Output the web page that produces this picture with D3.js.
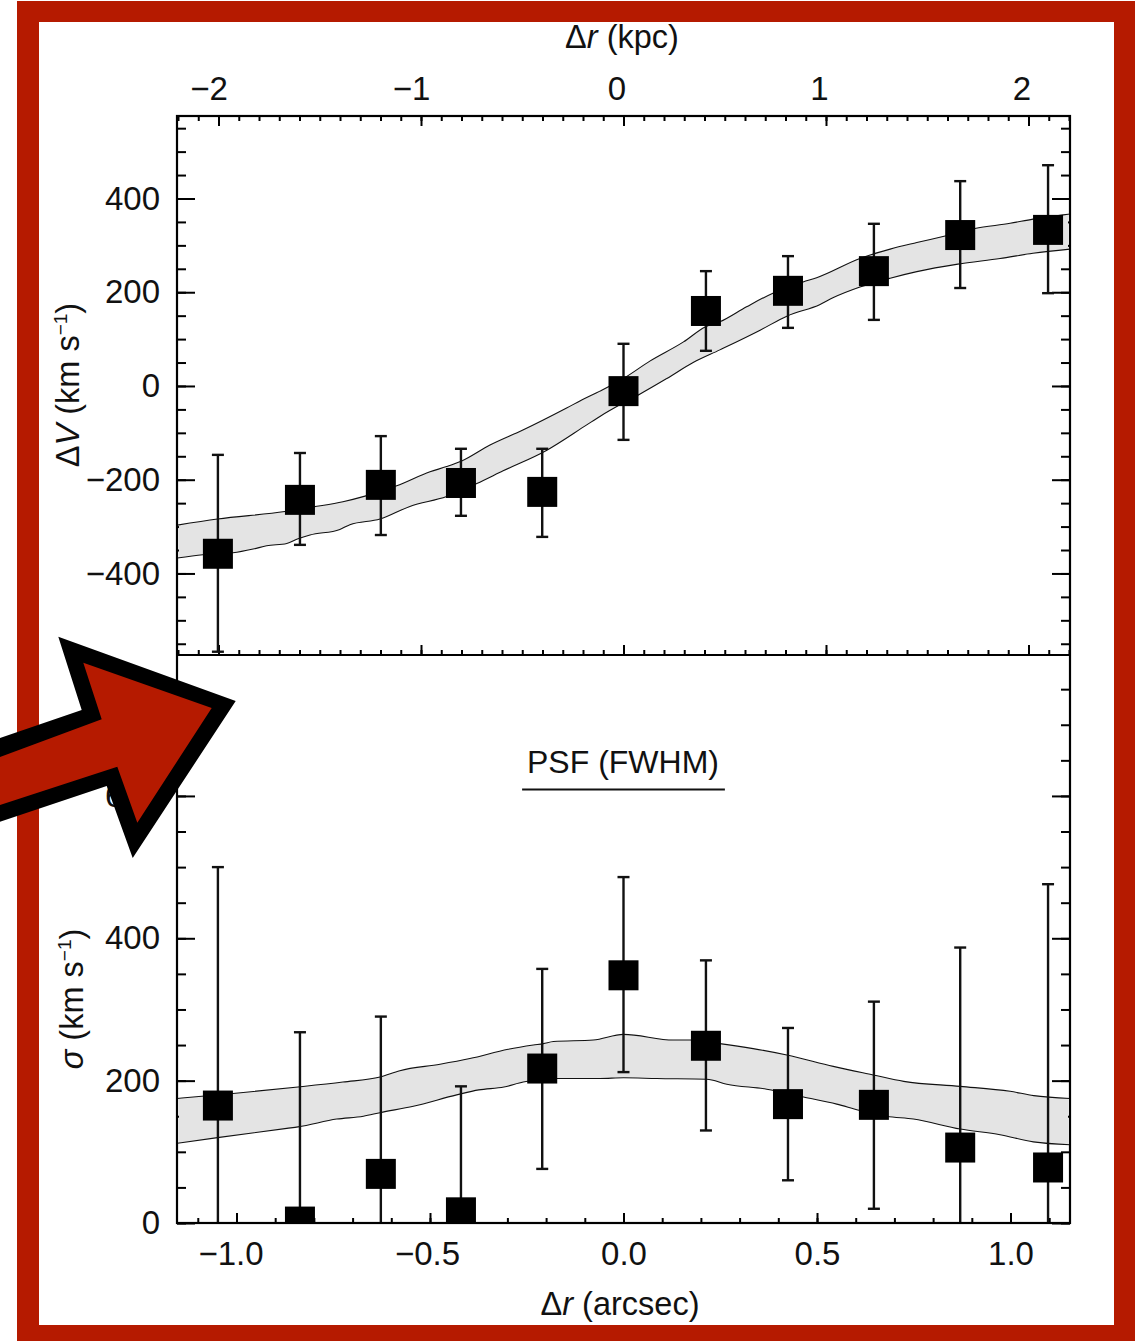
<!DOCTYPE html>
<html>
<head>
<meta charset="utf-8">
<script src="https://cdn.jsdelivr.net/npm/d3@7"></script>
<style>
  body { margin: 0; background: #fff; }
  svg { display: block; }
  text { font-family: "Liberation Sans", Arial, sans-serif; font-size: 32.5px; fill: #111; }
  .tick text { font-size: 33px; }
  .tick line { stroke: #000; stroke-width: 2; }
</style>
</head>
<body>
<script>
// measured points (x in arcsec)
var pointX = [-1.048, -0.836, -0.627, -0.42, -0.21, 0, 0.213, 0.425, 0.647, 0.87, 1.097];

var dvValues = [-358, -243, -211, -207, -226, -11, 160, 203, 245, 322, 333];
var dvHigh = [-147, -143, -107, -134, -134, 90, 245, 277, 346, 437, 471];
var dvLow = [-567, -339, -318, -277, -322, -115, 75, 124, 141, 209, 198];

var sigmaValues = [165, 2, 69, 15, 217, 348, 249, 167, 166, 106, 78];
var sigmaHigh = [500, 268, 290, 192, 357, 486, 369, 274, 311, 387, 476];
var sigmaLow = [-170, -264, -152, -162, 76, 212, 130, 60, 20, -175, -320];

// model bands, upper and lower edge
var dvTopX = [-1.153, -1.049, -0.875, -0.802, -0.725, -0.668, -0.586, -0.5, -0.457, -0.418, -0.345, -0.26, -0.147, -0.108, -0.061, 0, 0.068, 0.155, 0.211, 0.249, 0.318, 0.386, 0.464, 0.499, 0.611, 0.689, 0.758, 0.831, 0.908, 0.999, 1.058, 1.136, 1.154];
var dvTop = [-297, -284, -268, -258, -247, -235, -213, -183, -172, -160, -126, -94, -47, -30, -11, 16, 53, 94, 126, 137, 169, 198, 222, 231, 272, 292, 306, 320, 336, 347, 356, 365, 367];
var dvBottomX = [-1.153, -1.087, -1.009, -0.957, -0.922, -0.87, -0.841, -0.81, -0.733, -0.707, -0.629, -0.552, -0.457, -0.379, -0.311, -0.198, -0.095, -0.061, 0, 0.043, 0.112, 0.18, 0.249, 0.353, 0.422, 0.508, 0.541, 0.611, 0.689, 0.758, 0.864, 0.973, 1.058, 1.154];
var dvBottom = [-367, -360, -356, -348, -341, -336, -326, -318, -306, -296, -284, -257, -236, -208, -181, -137, -83, -65, -36, -17, 16, 50, 77, 119, 149, 174, 188, 211, 230, 244, 260, 272, 283, 292];

var sigmaTopX = [-1.153, -1.009, -0.841, -0.725, -0.629, -0.578, -0.474, -0.397, -0.298, -0.233, -0.207, -0.181, -0.078, 0, 0.129, 0.172, 0.249, 0.335, 0.422, 0.542, 0.645, 0.724, 0.87, 0.999, 1.06, 1.154];
var sigmaTop = [175, 182, 191, 198, 205, 214, 223, 231, 244, 250, 252, 255, 257, 265, 257, 257, 252, 245, 236, 220, 208, 199, 192, 185, 179, 175];
var sigmaBottomX = [-1.153, -1.049, -0.87, -0.841, -0.741, -0.672, -0.629, -0.543, -0.431, -0.374, -0.309, -0.259, -0.173, -0.061, 0, 0.086, 0.215, 0.267, 0.37, 0.465, 0.551, 0.611, 0.68, 0.749, 0.87, 0.973, 1.059, 1.154];
var sigmaBottom = [112, 120, 133, 135, 146, 150, 155, 164, 180, 187, 191, 198, 203, 203, 204, 203, 202, 195, 188, 177, 167, 158, 150, 146, 132, 124, 114, 110];

// ticks
var arcsecMajor = [-1, -0.5, 0, 0.5, 1];
var kpcMajor = [-2, -1, 0, 1, 2];
var dvMajor = [-400, -200, 0, 200, 400];
var sigmaMajor = [0, 200, 400, 600];

// PSF bar
var psfX = [-0.262, 0.262];
var psfSigma = 609;

// picture dressing
var red = "#b51a00";
var arrowOuter = [[235.7, 701], [58.3, 636.7], [81.7, 710], [0, 738], [0, 821.7], [106.7, 786], [132.7, 858]];
var arrowInner = [[211.7, 708], [83.3, 662.7], [101.7, 719.3], [0, 757], [0, 805], [117.3, 766.7], [137.3, 822.7]];

var left = 177, right = 1070, top1 = 116, mid = 655, bottom2 = 1223;
var bigTick = 18, smallTick = 9, xBig = 10, xSmall = 5, boxSize = 30, capWidth = 12;

var svg = d3.select("body").append("svg").attr("width", 1135).attr("height", 1341);

//Scales
var x = d3.scaleLinear().domain([-1.1537, 1.1537]).range([left, right]);
var kpc = d3.scaleLinear().domain([-2.205, 2.205]).range([left, right]);
var yDv = d3.scaleLinear().domain([-574, 576]).range([mid, top1]);
var ySigma = d3.scaleLinear().domain([0, 798]).range([bottom2, mid]);

function minorTicks(from, to, step) {
  return d3.range(from, to + step / 2, step);
}

var defs = svg.append("defs");
function addClip(id, y0, y1, inset) {
  defs.append("clipPath").attr("id", id).append("rect")
    .attr("x", left + inset).attr("width", right - left - inset * 2)
    .attr("y", y0).attr("height", y1 - y0);
}
addClip("clipUpper", top1, mid, 0);
addClip("clipLower", mid, bottom2, 0);
addClip("bandUpper", top1, mid, 2);
addClip("bandLower", mid, bottom2, 2);

function drawAxis(axis, tx, ty) {
  var g = svg.append("g").attr("transform", "translate(" + tx + "," + ty + ")").call(axis);
  g.select(".domain").remove();
  return g;
}

//Y axes, both sides, major and minor
function yAxes(scale, major, minor) {
  drawAxis(d3.axisLeft(scale).tickValues(major).tickSize(-bigTick).tickPadding(17).tickFormat(d3.format("d")), left, 0);
  drawAxis(d3.axisLeft(scale).tickValues(minor).tickSize(-smallTick).tickFormat(""), left, 0);
  drawAxis(d3.axisRight(scale).tickValues(major).tickSize(-bigTick).tickFormat(""), right, 0);
  drawAxis(d3.axisRight(scale).tickValues(minor).tickSize(-smallTick).tickFormat(""), right, 0);
}
yAxes(yDv, dvMajor, minorTicks(-550, 550, 50));
yAxes(ySigma, sigmaMajor, minorTicks(0, 750, 50));

//Top axis (kpc) and the same ticks along the panel split
drawAxis(d3.axisTop(kpc).tickValues(kpcMajor).tickSize(-xBig).tickPadding(16.5).tickFormat(d3.format("d")), 0, top1)
  .selectAll("text").attr("dx", function(d) { return d < 0 ? -10 : -7; });
drawAxis(d3.axisTop(kpc).tickValues(minorTicks(-2.2, 2.2, 0.1)).tickSize(-xSmall).tickFormat(""), 0, top1);
drawAxis(d3.axisBottom(kpc).tickValues(kpcMajor).tickSize(-xBig).tickFormat(""), 0, mid);
drawAxis(d3.axisBottom(kpc).tickValues(minorTicks(-2.2, 2.2, 0.1)).tickSize(-xSmall).tickFormat(""), 0, mid);

//Bottom axis (arcsec)
drawAxis(d3.axisBottom(x).tickValues(arcsecMajor).tickSize(-xBig).tickPadding(19).tickFormat(d3.format(".1f")), 0, bottom2)
  .selectAll("text").attr("dx", function(d) { return d < 0 ? 6 * d : 0; });
drawAxis(d3.axisBottom(x).tickValues(minorTicks(-1.1, 1.1, 0.1)).tickSize(-xSmall).tickFormat(""), 0, bottom2);

//One panel: band, error bars, boxes
function drawPanel(y, clip, bandClip, topX, topV, botX, botV, values, high, low) {
  var topEdge = topX.map(function(d, i) { return [x(d), y(topV[i])]; });
  var botEdge = botX.map(function(d, i) { return [x(d), y(botV[i])]; });
  var smooth = d3.line().curve(d3.curveMonotoneX);

  svg.append("path")
    .attr("d", d3.line()(topEdge.concat(botEdge.slice().reverse())) + "Z")
    .attr("clip-path", "url(#" + bandClip + ")")
    .attr("fill", "#e4e4e4");

  var g = svg.append("g").attr("clip-path", "url(#" + clip + ")");

  [topEdge, botEdge].forEach(function(edge) {
    g.append("path").attr("d", smooth(edge))
      .attr("fill", "none").attr("stroke", "#111").attr("stroke-width", 1.1);
  });

  var bars = g.selectAll(".bar").data(pointX).enter().append("g").attr("class", "bar")
    .attr("stroke", "#111").attr("stroke-width", 2.4);
  bars.append("line")
    .attr("x1", function(d) { return x(d); }).attr("x2", function(d) { return x(d); })
    .attr("y1", function(d, i) { return y(high[i]); })
    .attr("y2", function(d, i) { return y(low[i]); });
  bars.append("line")
    .attr("x1", function(d) { return x(d) - capWidth / 2; }).attr("x2", function(d) { return x(d) + capWidth / 2; })
    .attr("y1", function(d, i) { return y(high[i]); }).attr("y2", function(d, i) { return y(high[i]); });
  bars.append("line")
    .attr("x1", function(d) { return x(d) - capWidth / 2; }).attr("x2", function(d) { return x(d) + capWidth / 2; })
    .attr("y1", function(d, i) { return y(low[i]); }).attr("y2", function(d, i) { return y(low[i]); });

  g.selectAll(".box").data(pointX).enter().append("rect").attr("class", "box")
    .attr("x", function(d) { return x(d) - boxSize / 2; })
    .attr("y", function(d, i) { return y(values[i]) - boxSize / 2; })
    .attr("width", boxSize).attr("height", boxSize)
    .attr("fill", "#000");
}

drawPanel(yDv, "clipUpper", "bandUpper", dvTopX, dvTop, dvBottomX, dvBottom, dvValues, dvHigh, dvLow);
drawPanel(ySigma, "clipLower", "bandLower", sigmaTopX, sigmaTop, sigmaBottomX, sigmaBottom, sigmaValues, sigmaHigh, sigmaLow);

//Frame lines on top of the marks
svg.append("rect").attr("x", left).attr("y", top1)
  .attr("width", right - left).attr("height", bottom2 - top1)
  .attr("fill", "none").attr("stroke", "#000").attr("stroke-width", 2.2);
svg.append("line").attr("x1", left).attr("x2", right).attr("y1", mid).attr("y2", mid)
  .attr("stroke", "#000").attr("stroke-width", 1.8);

//PSF marker
svg.append("line")
  .attr("x1", x(psfX[0])).attr("x2", x(psfX[1]))
  .attr("y1", ySigma(psfSigma)).attr("y2", ySigma(psfSigma))
  .attr("stroke", "#111").attr("stroke-width", 2);
svg.append("text").attr("x", 623).attr("y", 773).attr("text-anchor", "middle")
  .style("font-size", "32px").text("PSF (FWHM)");

//Axis labels
function label(parent, parts) {
  parts.forEach(function(p) {
    var t = parent.append("tspan").text(p.t);
    if (p.italic) t.style("font-style", "italic");
    if (p.sup) t.attr("dy", -12).style("font-size", "19px");
    if (p.after) t.attr("dy", 12);
  });
}

label(svg.append("text").attr("x", 622).attr("y", 48).attr("text-anchor", "middle"),
  [{t: "\u0394"}, {t: "r", italic: true}, {t: " (kpc)"}]);
label(svg.append("text").attr("x", 620).attr("y", 1315).attr("text-anchor", "middle"),
  [{t: "\u0394"}, {t: "r", italic: true}, {t: " (arcsec)"}]);
label(svg.append("text").attr("transform", "translate(79,385) rotate(-90)").attr("text-anchor", "middle"),
  [{t: "\u0394"}, {t: "V", italic: true}, {t: " (km s"}, {t: "\u22121", sup: true}, {t: ")", after: true}]);
label(svg.append("text").attr("transform", "translate(83,999) rotate(-90)").attr("text-anchor", "middle"),
  [{t: "\u03c3", italic: true}, {t: " (km s"}, {t: "\u22121", sup: true}, {t: ")", after: true}]);

//Red border and arrow sit over the chart
svg.append("path")
  .attr("d", "M17,1H1135V1341H17ZM39,22V1325H1114V22Z")
  .attr("fill", red).attr("fill-rule", "evenodd");
svg.append("polygon").attr("points", arrowOuter.join(" ")).attr("fill", "#000");
svg.append("polygon").attr("points", arrowInner.join(" ")).attr("fill", red);
</script>
</body>
</html>
